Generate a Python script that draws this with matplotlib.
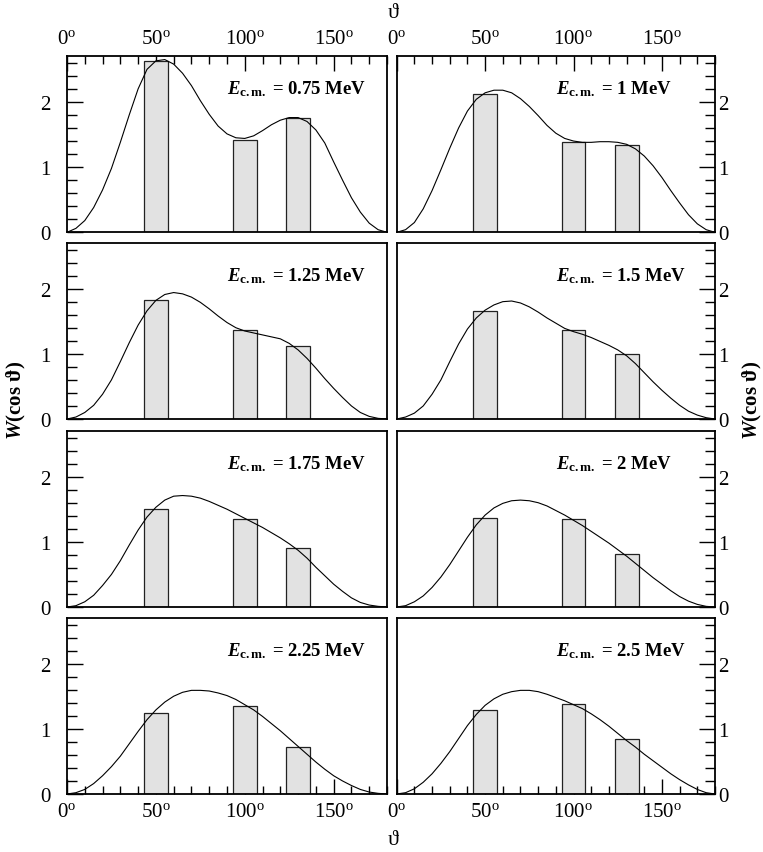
import numpy as np
import matplotlib
matplotlib.use('Agg')
import matplotlib.pyplot as plt
from matplotlib.ticker import MultipleLocator, FixedLocator, FixedFormatter

plt.rcParams['font.family'] = ['Liberation Serif', 'DejaVu Serif']
plt.rcParams['mathtext.fontset'] = 'custom'
plt.rcParams['mathtext.rm'] = 'Liberation Serif'
plt.rcParams['mathtext.it'] = 'Liberation Serif:italic'
plt.rcParams['mathtext.bf'] = 'Liberation Serif:bold'
plt.rcParams['mathtext.bfit'] = 'Liberation Serif:italic:bold'

# ---------------- data ----------------
energies = ['0.75', '1', '1.25', '1.5', '1.75', '2', '2.25', '2.5']
bar_angles = [50, 100, 130]
bar_width = 13.5

bars_075 = [2.63, 1.415, 1.75]
bars_100 = [2.12, 1.38, 1.34]
bars_125 = [1.82, 1.37, 1.12]
bars_150 = [1.65, 1.36, 0.99]
bars_175 = [1.51, 1.35, 0.90]
bars_200 = [1.37, 1.35, 0.81]
bars_225 = [1.245, 1.35, 0.72]
bars_250 = [1.29, 1.38, 0.85]

curve_angles = [0, 5, 10, 15, 20, 25, 30, 35, 40, 45, 50, 55, 60, 65, 70, 75, 80, 85, 90,
                95, 100, 105, 110, 115, 120, 125, 130, 135, 140, 145, 150, 155, 160, 165, 170, 175, 180]

w_075 = [0, 0.06, 0.18, 0.38, 0.65, 0.98, 1.38, 1.80, 2.20, 2.50, 2.63, 2.65, 2.58, 2.44, 2.25, 2.02,
         1.81, 1.63, 1.51, 1.45, 1.44, 1.48, 1.56, 1.65, 1.72, 1.76, 1.76, 1.70, 1.57, 1.37, 1.08,
         0.80, 0.53, 0.31, 0.14, 0.04, 0]
w_100 = [0, 0.04, 0.15, 0.36, 0.64, 0.96, 1.29, 1.60, 1.86, 2.04, 2.14, 2.18, 2.18, 2.14, 2.05, 1.93,
         1.79, 1.64, 1.52, 1.44, 1.40, 1.38, 1.38, 1.39, 1.39, 1.38, 1.35, 1.28, 1.17, 1.02, 0.84,
         0.64, 0.45, 0.27, 0.13, 0.04, 0]
w_125 = [0, 0.03, 0.10, 0.21, 0.38, 0.60, 0.88, 1.17, 1.44, 1.66, 1.82, 1.91, 1.94, 1.92, 1.87, 1.79,
         1.69, 1.58, 1.48, 1.40, 1.35, 1.32, 1.29, 1.26, 1.23, 1.16, 1.06, 0.93, 0.78, 0.62, 0.47,
         0.33, 0.20, 0.10, 0.04, 0.01, 0]
w_150 = [0, 0.03, 0.09, 0.20, 0.38, 0.60, 0.88, 1.15, 1.38, 1.55, 1.67, 1.75, 1.80, 1.81, 1.78, 1.72,
         1.64, 1.55, 1.47, 1.39, 1.34, 1.30, 1.25, 1.19, 1.13, 1.06, 0.97, 0.85, 0.71, 0.57, 0.44,
         0.32, 0.21, 0.12, 0.06, 0.02, 0]
w_175 = [0, 0.02, 0.08, 0.18, 0.33, 0.50, 0.71, 0.95, 1.18, 1.38, 1.53, 1.64, 1.70, 1.71, 1.70, 1.67,
         1.62, 1.56, 1.50, 1.43, 1.36, 1.29, 1.22, 1.14, 1.06, 0.97, 0.87, 0.75, 0.61, 0.48, 0.35,
         0.24, 0.14, 0.07, 0.03, 0.01, 0]
w_200 = [0, 0.02, 0.08, 0.17, 0.30, 0.46, 0.65, 0.86, 1.07, 1.26, 1.41, 1.52, 1.59, 1.63, 1.64, 1.63,
         1.60, 1.55, 1.48, 1.41, 1.33, 1.25, 1.16, 1.07, 0.98, 0.88, 0.78, 0.67, 0.56, 0.45, 0.35,
         0.25, 0.16, 0.09, 0.04, 0.01, 0]
w_225 = [0, 0.02, 0.07, 0.16, 0.28, 0.42, 0.58, 0.77, 0.96, 1.14, 1.29, 1.41, 1.50, 1.56, 1.59, 1.59,
         1.58, 1.55, 1.51, 1.45, 1.37, 1.29, 1.19, 1.08, 0.97, 0.85, 0.73, 0.61, 0.49, 0.38, 0.28,
         0.20, 0.13, 0.07, 0.03, 0.01, 0]
w_250 = [0, 0.02, 0.08, 0.18, 0.31, 0.47, 0.65, 0.85, 1.05, 1.22, 1.36, 1.46, 1.53, 1.57, 1.59, 1.59,
         1.57, 1.53, 1.48, 1.43, 1.37, 1.31, 1.23, 1.14, 1.04, 0.93, 0.82, 0.72, 0.61, 0.51, 0.41,
         0.31, 0.22, 0.14, 0.07, 0.02, 0]

all_bars = [bars_075, bars_100, bars_125, bars_150, bars_175, bars_200, bars_225, bars_250]
all_curves = [w_075, w_100, w_125, w_150, w_175, w_200, w_225, w_250]

x_major = [0, 50, 100, 150]
x_labels = [r'$\mathrm{%d}^{\mathrm{o}}$' % v for v in x_major]
y_major = [0, 1, 2]

# ---------------- figure ----------------
W, H = 763, 853
fig = plt.figure(figsize=(W / 100, H / 100), dpi=100)

col_x = [67, 396.7]
col_w = [320, 318.3]
row_top = [57.3, 244, 432, 619]
row_h = 176

for i in range(8):
    r, c = divmod(i, 2)
    left = col_x[c] / W
    bottom = 1 - (row_top[r] + row_h) / H
    ax = fig.add_axes([left, bottom, col_w[c] / W, row_h / H])
    ax.bar(bar_angles, all_bars[i], width=bar_width, color='#e2e2e2',
           edgecolor='#222222', linewidth=0.9, zorder=2)
    ax.plot(curve_angles, all_curves[i], color='black', lw=0.8, zorder=3,
            solid_joinstyle='round')
    ax.set_xlim(0, 180)
    ax.set_ylim(0, 2.7)

    for s in ax.spines.values():
        s.set_linewidth(1.3)
        s.set_zorder(5)

    ax.xaxis.set_major_locator(FixedLocator(x_major))
    ax.xaxis.set_major_formatter(FixedFormatter(x_labels))
    ax.xaxis.set_minor_locator(MultipleLocator(10))
    ax.yaxis.set_major_locator(FixedLocator(y_major))
    ax.yaxis.set_minor_locator(MultipleLocator(0.2))

    top_row = (r == 0)
    bot_row = (r == 3)
    ax.tick_params(axis='x', which='both', direction='in', top=top_row, bottom=bot_row,
                   labeltop=top_row, labelbottom=bot_row, labelsize=15, width=1.0)
    ax.tick_params(axis='x', which='major', length=11, pad=6)
    ax.tick_params(axis='x', which='minor', length=5.5)
    if c == 0:
        ax.tick_params(axis='y', which='both', direction='in', left=True, right=False,
                       labelleft=True, labelright=False, labelsize=15, width=1.0)
        ax.tick_params(axis='y', which='major', length=11.5, pad=12)
    else:
        ax.tick_params(axis='y', which='both', direction='in', left=False, right=True,
                       labelleft=False, labelright=True, labelsize=15, width=1.0)
        ax.tick_params(axis='y', which='major', length=11.5, pad=2)
    ax.tick_params(axis='y', which='minor', length=7)

    ax.text(0.5, 0.79, r'$\mathbfit{E}_{\mathbf{c.m.}}$ = %s MeV' % energies[i],
            transform=ax.transAxes, ha='left', va='baseline', fontsize=13.5,
            fontweight='bold', zorder=7)

fig.text(393 / W, 1 - 13 / H, 'ϑ', ha='center', va='center', fontsize=16)
fig.text(393 / W, 1 - 841 / H, 'ϑ', ha='center', va='center', fontsize=16)
ylab = r'$\mathbfit{W}$(cos ϑ)'
fig.text(16 / W, 1 - 400 / H, ylab, rotation=90, ha='center', va='center',
         fontsize=15, fontweight='bold')
fig.text(752 / W, 1 - 400 / H, ylab, rotation=90, ha='center', va='center',
         fontsize=15, fontweight='bold')

fig.savefig('out.png', dpi=100)
